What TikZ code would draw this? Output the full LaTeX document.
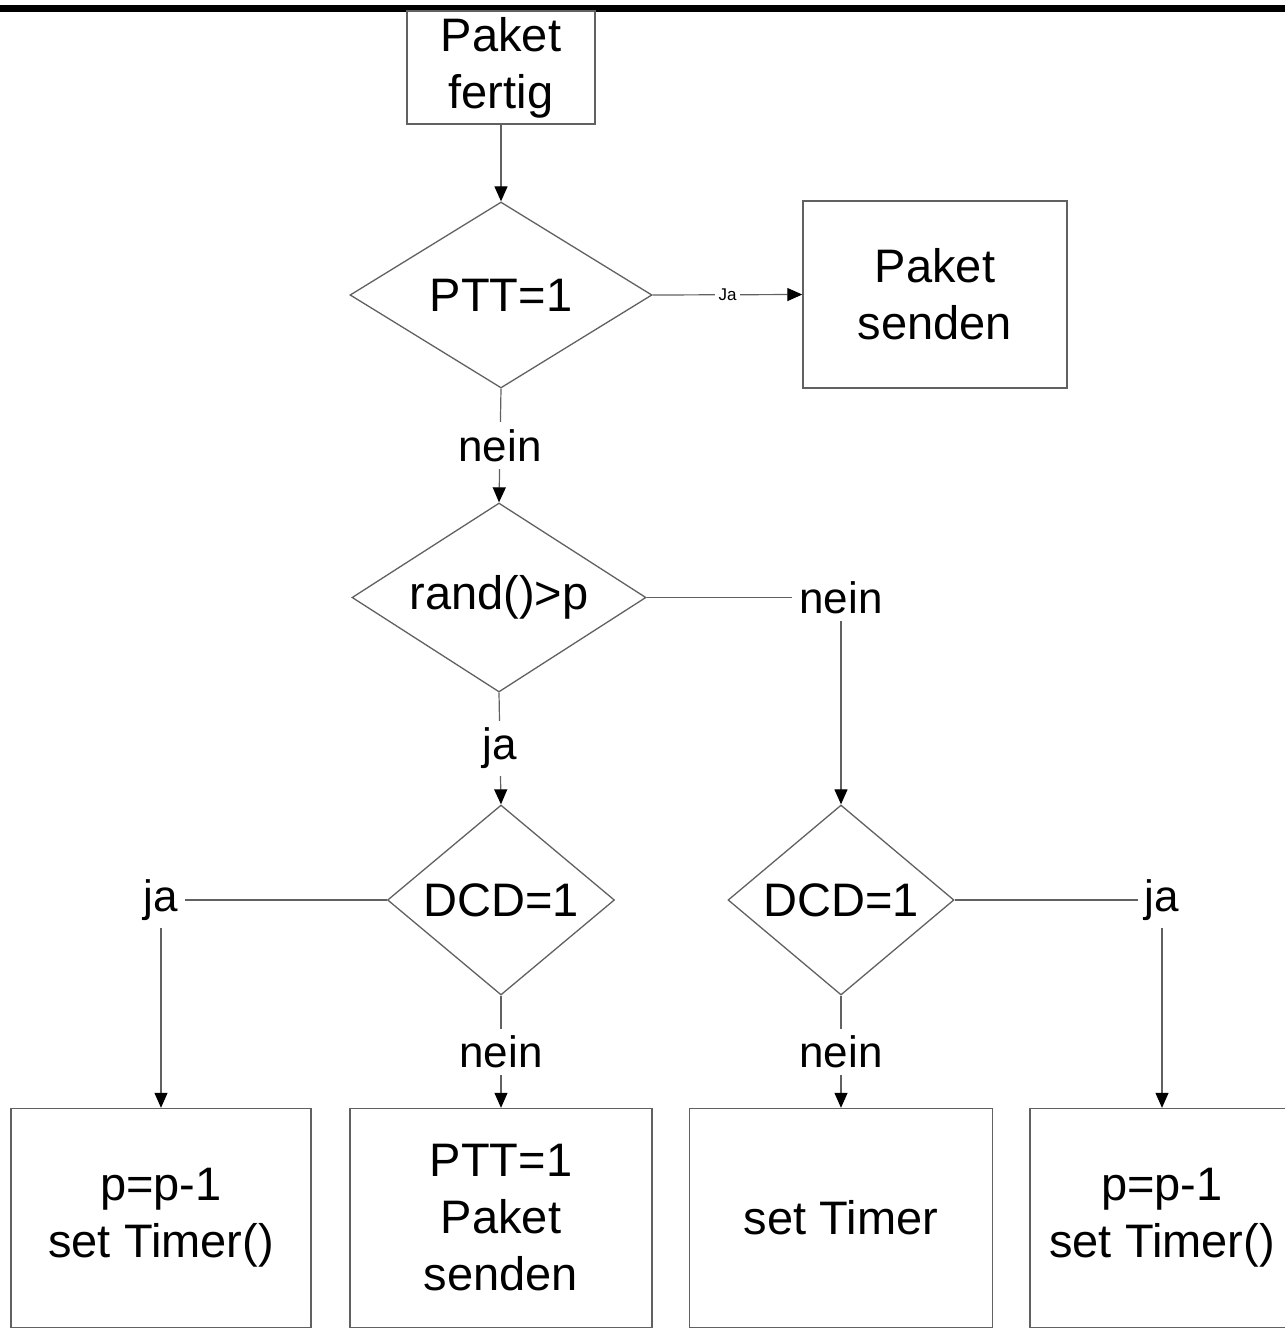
\documentclass[tikz,border=0pt]{standalone}
\usepackage{fontspec}
\setmainfont{Liberation Sans}
\usetikzlibrary{arrows.meta,shapes.geometric}
\definecolor{linegray}{gray}{0.38}
\newcommand\mainfs{\fontsize{47}{57}\selectfont}
\newcommand\neinfs{\fontsize{44}{52}\selectfont}
\newcommand\smallfs{\fontsize{17}{20}\selectfont}
\begin{document}
\begin{tikzpicture}[x=1pt,y=-1pt,
  box/.style={draw=linegray, line width=1.4pt, rectangle, inner sep=0pt,
    align=center, font=\mainfs},
  decision/.style={draw=linegray, line width=1.3pt, diamond, inner sep=0pt,
    font=\mainfs},
  conn/.style={draw=linegray, line width=1.2pt,
    -{Triangle[length=15pt,width=13pt,color=black]}},
  lbl/.style={fill=white, inner sep=7pt, font=\neinfs},
  smalllbl/.style={fill=white, inner sep=4pt, font=\smallfs}]

% page frame and top rule
\useasboundingbox (0,0) rectangle (1285,1328);
\fill[white] (0,0) rectangle (1285,1328);
\fill[black] (0,5) rectangle (1285,12);

% process boxes
\node[box, minimum width=188, minimum height=113] (start) at (501,67.5) {Paket\\fertig};
\node[box, minimum width=264, minimum height=187] (send) at (935,294.5) {Paket\\senden};
\node[box, minimum width=300, minimum height=219] (b1) at (161,1218) {p=p-1\\set Timer()};
\node[box, minimum width=302, minimum height=219] (b2) at (501,1218) {PTT=1\\Paket\\senden};
\node[box, minimum width=303, minimum height=219] (b3) at (841,1218) {set Timer};
\node[box, minimum width=264, minimum height=219] (b4) at (1162,1218) {p=p-1\\set Timer()};

% decisions
\node[decision, minimum width=302, minimum height=186, aspect=1.62] (d1) at (501,295) {PTT=1};
\node[decision, minimum width=294, minimum height=189, aspect=1.56] (d2) at (499,597.5) {rand()>p};
\node[decision, minimum width=227, minimum height=190, aspect=1.19] (d3) at (501,900) {DCD=1};
\node[decision, minimum width=226, minimum height=190, aspect=1.19] (d4) at (841,900) {DCD=1};

% connectors
\draw[conn] (start.south) -- (d1.north);
\draw[conn] (d1.east) -- node[smalllbl] {Ja} (send.west);
\draw[conn] (d1.south) -- node[lbl] {nein} (d2.north);
\draw[conn] (d2.south) -- node[lbl] {ja} (d3.north);
\draw[conn] (d2.east) -| node[lbl] {nein} (d4.north);
\draw[conn] (d3.west) -| node[lbl] {ja} (b1.north);
\draw[conn] (d3.south) -- node[lbl] {nein} (b2.north);
\draw[conn] (d4.south) -- node[lbl] {nein} (b3.north);
\draw[conn] (d4.east) -| node[lbl] {ja} (b4.north);
\end{tikzpicture}
\end{document}
